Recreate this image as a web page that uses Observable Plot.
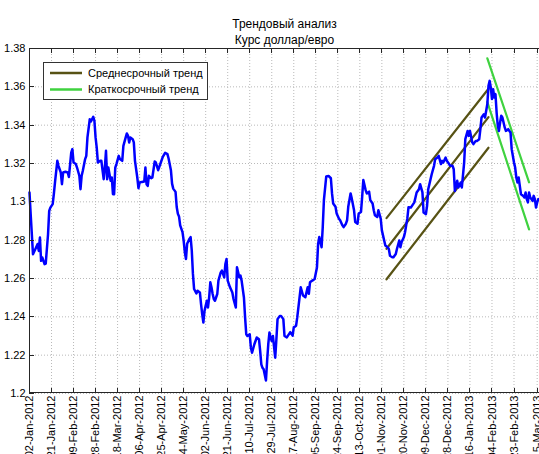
<!DOCTYPE html>
<html>
<head>
<meta charset="utf-8">
<script src="https://cdn.jsdelivr.net/npm/d3@7"></script>
<script src="https://cdn.jsdelivr.net/npm/@observablehq/plot@0.6"></script>
<style>
  html, body { margin: 0; padding: 0; background: #fff; overflow: hidden; }
</style>
</head>
<body>
<div id="chart"></div>
<script>
const titleLines = ["Трендовый анализ", "Курс доллар/евро"];

const dates = [
  "2012-01-02","2012-01-03","2012-01-05","2012-01-07","2012-01-09","2012-01-10","2012-01-11","2012-01-12","2012-01-13","2012-01-15",
  "2012-01-16","2012-01-18","2012-01-19","2012-01-20","2012-01-22","2012-01-23","2012-01-24","2012-01-26","2012-01-27","2012-01-29",
  "2012-01-30","2012-01-31","2012-02-02","2012-02-04","2012-02-05","2012-02-07","2012-02-08","2012-02-09","2012-02-11","2012-02-12",
  "2012-02-14","2012-02-15","2012-02-16","2012-02-17","2012-02-19","2012-02-20","2012-02-21","2012-02-23","2012-02-24","2012-02-26",
  "2012-02-27","2012-02-28","2012-02-29","2012-03-01","2012-03-03","2012-03-04","2012-03-06","2012-03-07","2012-03-08","2012-03-09",
  "2012-03-10","2012-03-11","2012-03-12","2012-03-13","2012-03-14","2012-03-15","2012-03-16","2012-03-17","2012-03-19","2012-03-20",
  "2012-03-22","2012-03-23","2012-03-25","2012-03-26","2012-03-27","2012-03-28","2012-03-29","2012-03-31","2012-04-01","2012-04-02",
  "2012-04-04","2012-04-05","2012-04-06","2012-04-08","2012-04-10","2012-04-11","2012-04-12","2012-04-13","2012-04-14","2012-04-16",
  "2012-04-17","2012-04-19","2012-04-20","2012-04-22","2012-04-24","2012-04-26","2012-04-28","2012-04-30","2012-05-01","2012-05-03",
  "2012-05-04","2012-05-05","2012-05-07","2012-05-08","2012-05-09","2012-05-10","2012-05-11","2012-05-13","2012-05-14","2012-05-15",
  "2012-05-16","2012-05-17","2012-05-19","2012-05-20","2012-05-21","2012-05-22","2012-05-23","2012-05-25","2012-05-26","2012-05-28",
  "2012-05-29","2012-05-30","2012-05-31","2012-06-01","2012-06-02","2012-06-03","2012-06-04","2012-06-05","2012-06-06","2012-06-07",
  "2012-06-08","2012-06-09","2012-06-10","2012-06-12","2012-06-13","2012-06-15","2012-06-16","2012-06-18","2012-06-19","2012-06-20",
  "2012-06-21","2012-06-22","2012-06-23","2012-06-25","2012-06-26","2012-06-28","2012-06-29","2012-06-30","2012-07-01","2012-07-02",
  "2012-07-03","2012-07-05","2012-07-06","2012-07-07","2012-07-08","2012-07-10","2012-07-11","2012-07-12","2012-07-14","2012-07-15",
  "2012-07-16","2012-07-18","2012-07-19","2012-07-20","2012-07-21","2012-07-22","2012-07-24","2012-07-25","2012-07-26","2012-07-27",
  "2012-07-28","2012-07-29","2012-07-30","2012-08-01","2012-08-02","2012-08-03","2012-08-05","2012-08-06","2012-08-08","2012-08-09",
  "2012-08-11","2012-08-14","2012-08-16","2012-08-17","2012-08-19","2012-08-20","2012-08-22","2012-08-23","2012-08-25","2012-08-27",
  "2012-08-29","2012-08-30","2012-08-31","2012-09-02","2012-09-04","2012-09-06","2012-09-07","2012-09-08","2012-09-10","2012-09-11",
  "2012-09-12","2012-09-14","2012-09-16","2012-09-18","2012-09-19","2012-09-20","2012-09-22","2012-09-23","2012-09-25","2012-09-26",
  "2012-09-28","2012-09-29","2012-10-01","2012-10-02","2012-10-03","2012-10-05","2012-10-06","2012-10-08","2012-10-09","2012-10-11",
  "2012-10-12","2012-10-14","2012-10-15","2012-10-16","2012-10-18","2012-10-19","2012-10-21","2012-10-22","2012-10-24","2012-10-25",
  "2012-10-26","2012-10-28","2012-10-29","2012-10-31","2012-11-01","2012-11-03","2012-11-04","2012-11-06","2012-11-07","2012-11-08",
  "2012-11-10","2012-11-11","2012-11-13","2012-11-14","2012-11-16","2012-11-17","2012-11-18","2012-11-20","2012-11-21","2012-11-23",
  "2012-11-24","2012-11-26","2012-11-27","2012-11-29","2012-11-30","2012-12-01","2012-12-03","2012-12-04","2012-12-06","2012-12-07",
  "2012-12-09","2012-12-10","2012-12-11","2012-12-13","2012-12-14","2012-12-16","2012-12-17","2012-12-19","2012-12-20","2012-12-22",
  "2012-12-23","2012-12-24","2012-12-26","2012-12-27","2012-12-29","2012-12-30","2013-01-01","2013-01-02","2013-01-03","2013-01-05",
  "2013-01-06","2013-01-08","2013-01-09","2013-01-11","2013-01-12","2013-01-14","2013-01-15","2013-01-16","2013-01-18","2013-01-19",
  "2013-01-21","2013-01-22","2013-01-24","2013-01-25","2013-01-26","2013-01-28","2013-01-29","2013-01-31","2013-02-01","2013-02-02",
  "2013-02-03","2013-02-04","2013-02-05","2013-02-06","2013-02-07","2013-02-08","2013-02-09","2013-02-10","2013-02-11","2013-02-12",
  "2013-02-13","2013-02-15","2013-02-16","2013-02-18","2013-02-19","2013-02-20","2013-02-21","2013-02-23","2013-02-24","2013-02-25",
  "2013-02-26","2013-02-27","2013-02-28","2013-03-01","2013-03-03","2013-03-04","2013-03-05","2013-03-06","2013-03-07","2013-03-08",
  "2013-03-09","2013-03-11","2013-03-12","2013-03-13","2013-03-14","2013-03-15","2013-03-16"
];

const rates = [
  1.3049,1.2936,1.2727,1.2753,1.2780,1.2744,1.2814,1.2692,1.2710,1.2675,
  1.2678,1.2831,1.2953,1.2970,1.2988,1.3040,1.3101,1.3214,1.3188,1.3153,
  1.3092,1.3153,1.3157,1.3153,1.3130,1.3257,1.3275,1.3205,1.3197,1.3179,
  1.3136,1.3066,1.3136,1.3162,1.3223,1.3240,1.3336,1.3431,1.3419,1.3443,
  1.3423,1.3336,1.3283,1.3205,1.3214,1.3214,1.3118,1.3179,1.3266,1.3118,
  1.3179,1.3144,1.3110,1.3127,1.3040,1.3040,1.3179,1.3197,1.3240,1.3223,
  1.3214,1.3292,1.3336,1.3357,1.3344,1.3310,1.3336,1.3327,1.3310,1.3214,
  1.3127,1.3071,1.3101,1.3104,1.3106,1.3179,1.3092,1.3083,1.3136,1.3123,
  1.3127,1.3210,1.3205,1.3165,1.3200,1.3235,1.3256,1.3249,1.3226,1.3165,
  1.3095,1.3069,1.3052,1.2973,1.2938,1.2924,1.2877,1.2842,1.2798,1.2737,
  1.2702,1.2781,1.2807,1.2816,1.2746,1.2624,1.2545,1.2522,1.2536,1.2527,
  1.2466,1.2414,1.2370,1.2431,1.2458,1.2484,1.2449,1.2501,1.2580,1.2554,
  1.2519,1.2493,1.2484,1.2519,1.2589,1.2632,1.2641,1.2606,1.2676,1.2702,
  1.2589,1.2571,1.2554,1.2527,1.2493,1.2449,1.2659,1.2632,1.2606,1.2615,
  1.2589,1.2501,1.2397,1.2309,1.2300,1.2309,1.2239,1.2213,1.2257,1.2274,
  1.2292,1.2283,1.2222,1.2152,1.2134,1.2126,1.2068,1.2169,1.2257,1.2318,
  1.2292,1.2274,1.2300,1.2187,1.2283,1.2388,1.2405,1.2405,1.2388,1.2300,
  1.2293,1.2320,1.2302,1.2345,1.2354,1.2397,1.2502,1.2554,1.2511,1.2502,
  1.2554,1.2520,1.2580,1.2589,1.2597,1.2658,1.2780,1.2816,1.2763,1.2868,
  1.3009,1.3132,1.3135,1.3123,1.3044,1.2991,1.2974,1.2939,1.2912,1.2904,
  1.2877,1.2868,1.2886,1.2904,1.2974,1.3044,1.3018,1.2956,1.2895,1.2886,
  1.2939,1.2947,1.3026,1.3114,1.3061,1.3044,1.3053,1.3009,1.2991,1.2956,
  1.2930,1.2921,1.2956,1.2912,1.2851,1.2798,1.2772,1.2763,1.2754,1.2719,
  1.2711,1.2711,1.2728,1.2754,1.2798,1.2763,1.2789,1.2816,1.2841,1.2915,
  1.2972,1.2970,1.2979,1.2997,1.3023,1.3049,1.3066,1.3092,1.3049,1.2944,
  1.2936,1.2979,1.3066,1.3118,1.3144,1.3188,1.3223,1.3231,1.3240,1.3197,
  1.3214,1.3205,1.3231,1.3214,1.3197,1.3188,1.3188,1.3170,1.3057,1.3110,
  1.3075,1.3101,1.3075,1.3205,1.3327,1.3370,1.3344,1.3370,1.3310,1.3301,
  1.3318,1.3318,1.3327,1.3379,1.3440,1.3457,1.3440,1.3510,1.3605,1.3631,
  1.3596,1.3536,1.3588,1.3544,1.3562,1.3466,1.3397,1.3370,1.3414,1.3449,
  1.3440,1.3388,1.3370,1.3379,1.3370,1.3362,1.3275,1.3205,1.3179,1.3127,
  1.3101,1.3127,1.3083,1.3040,1.3031,1.3023,1.3049,1.3014,1.2997,1.3049,
  1.3023,1.3005,1.3031,1.3014,1.2970,1.2997,1.3014
];

// Medium-term trend channel (three parallel lines)
const mediumTrendDates = ["2012-11-05", "2013-02-01"];
const mediumTrendUpper = [1.2915, 1.3590];
const mediumTrendMiddle = [1.2755, 1.3442];
const mediumTrendLower = [1.2596, 1.3282];

// Short-term trend channel (two parallel lines)
const shortTrendDates = ["2013-01-31", "2013-03-08"];
const shortTrendUpper = [1.3749, 1.3102];
const shortTrendLower = [1.3520, 1.2856];

const legendLabels = ["Среднесрочный тренд", "Краткосрочный тренд"];
const legendColors = ["#575214", "#3fd23f"];

const xTickDates = [
  "2012-01-02","2012-01-21","2012-02-09","2012-02-28","2012-03-18","2012-04-06","2012-04-25","2012-05-14",
  "2012-06-02","2012-06-21","2012-07-10","2012-07-29","2012-08-17","2012-09-05","2012-09-24","2012-10-13",
  "2012-11-01","2012-11-20","2012-12-09","2012-12-28","2013-01-16","2013-02-04","2013-02-23","2013-03-15"
];
const xTickLabels = [
  "02-Jan-2012","21-Jan-2012","09-Feb-2012","28-Feb-2012","18-Mar-2012","06-Apr-2012","25-Apr-2012","14-May-2012",
  "02-Jun-2012","21-Jun-2012","10-Jul-2012","29-Jul-2012","17-Aug-2012","05-Sep-2012","24-Sep-2012","13-Oct-2012",
  "01-Nov-2012","20-Nov-2012","09-Dec-2012","28-Dec-2012","16-Jan-2013","04-Feb-2013","23-Feb-2013","15-Mar-2013"
];
const yTicks = [1.2, 1.22, 1.24, 1.26, 1.28, 1.3, 1.32, 1.34, 1.36, 1.38];
const yTickLabels = ["1.2", "1.22", "1.24", "1.26", "1.28", "1.3", "1.32", "1.34", "1.36", "1.38"];

const xDomain = ["2012-01-02", "2013-03-17"];
const yDomain = [1.2, 1.38];

// ---- build tables ----
const parse = (s) => new Date(s + "T00:00:00Z");
const series = dates.map((d, i) => ({date: parse(d), rate: rates[i]}));
const trendRows = [];
[["upper", mediumTrendUpper], ["middle", mediumTrendMiddle], ["lower", mediumTrendLower]].forEach(([k, vals]) =>
  vals.forEach((v, i) => trendRows.push({group: "m-" + k, kind: "medium", date: parse(mediumTrendDates[i]), rate: v})));
[["upper", shortTrendUpper], ["lower", shortTrendLower]].forEach(([k, vals]) =>
  vals.forEach((v, i) => trendRows.push({group: "s-" + k, kind: "short", date: parse(shortTrendDates[i]), rate: v})));
const xTicks = xTickDates.map(parse);
const xLabelMap = new Map(xTicks.map((d, i) => [+d, xTickLabels[i]]));
const yLabelMap = new Map(yTicks.map((d, i) => [d, yTickLabels[i]]));

const frameColor = "#262626";

// Frame (left, top, bottom) with inward MATLAB-style ticks
const frameMark = (index, {x, y}, values, dims) => {
  const g = d3.create("svg:g").attr("fill", "none").attr("stroke", frameColor).attr("stroke-width", 1);
  const l = dims.marginLeft, t = dims.marginTop, b = dims.height - dims.marginBottom, r = dims.width - dims.marginRight;
  g.append("path").attr("d", `M${r + 2},${t + 0.5}H${l + 0.5}V${b - 0.5}H${r + 2}`);
  let d = "";
  for (const tk of xTicks) {
    const px = Math.round(x(tk)) + 0.5;
    d += `M${px},${b}V${b - 5}M${px},${t}V${t + 5}`;
  }
  for (const v of yTicks) {
    const py = Math.round(y(v)) + 0.5;
    d += `M${l},${py}H${l + 5}`;
  }
  g.append("path").attr("d", d);
  return g.node();
};

// Boxed legend in the upper-left corner
const legendMark = (index, scales, values, dims) => {
  const g = d3.create("svg:g").attr("font-size", 11).attr("text-anchor", "start");
  const x0 = dims.marginLeft + 14, y0 = dims.marginTop + 14;
  g.append("rect").attr("x", x0 + 0.5).attr("y", y0 + 0.5).attr("width", 164).attr("height", 37)
    .attr("fill", "white").attr("stroke", "#333");
  legendLabels.forEach((lab, i) => {
    const yy = y0 + 11 + i * 16.5;
    g.append("line").attr("x1", x0 + 7).attr("x2", x0 + 39).attr("y1", yy).attr("y2", yy)
      .attr("stroke", legendColors[i]).attr("stroke-width", 2.5);
    g.append("text").attr("x", x0 + 45).attr("y", yy).attr("dy", "0.35em")
      .attr("text-anchor", "start").attr("fill", "#000").text(lab);
  });
  return g.node();
};

const chart = Plot.plot({
  width: 539,
  height: 454,
  marginLeft: 29,
  marginRight: 0,
  marginTop: 48,
  marginBottom: 61,
  style: {fontFamily: "'Liberation Sans', Arial, Helvetica, sans-serif", fontSize: "11px", background: "white", color: "#000", overflow: "visible"},
  x: {type: "utc", domain: xDomain.map(parse)},
  y: {domain: yDomain},
  marks: [
    Plot.ruleX(xTicks, {stroke: "#b9b9b9", strokeDasharray: "1,2"}),
    Plot.ruleY(yTicks, {stroke: "#b9b9b9", strokeDasharray: "1,2"}),
    Plot.axisY(yTicks, {tickSize: 0, tickPadding: 4, tickFormat: (d) => yLabelMap.get(d), fontSize: 11, label: null}),
    Plot.axisX(xTicks, {tickSize: 0, tickPadding: 2, tickRotate: -90, tickFormat: (d) => xLabelMap.get(+d), fontSize: 11, label: null}),
    Plot.line(trendRows.filter((r) => r.kind === "medium"), {x: "date", y: "rate", z: "group", stroke: legendColors[0], strokeWidth: 2.2}),
    Plot.line(trendRows.filter((r) => r.kind === "short"), {x: "date", y: "rate", z: "group", stroke: legendColors[1], strokeWidth: 2.2}),
    Plot.line(series, {x: "date", y: "rate", stroke: "#0000ff", strokeWidth: 2.5, strokeLinejoin: "round"}),
    frameMark,
    legendMark,
    Plot.text([titleLines[0]], {text: (d) => d, frameAnchor: "top", dy: -29, fontSize: 12}),
    Plot.text([titleLines[1]], {text: (d) => d, frameAnchor: "top", dy: -13, fontSize: 12})
  ]
});
document.getElementById("chart").appendChild(chart);
</script>
</body>
</html>
